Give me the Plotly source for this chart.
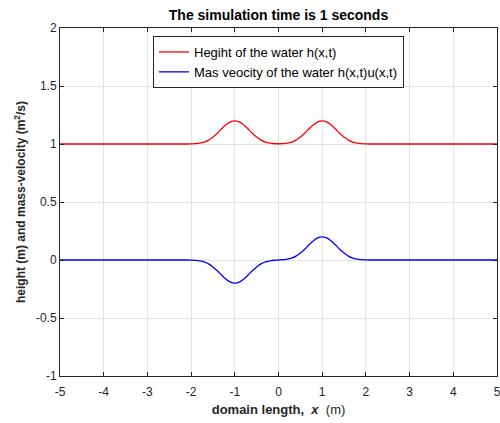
import plotly.graph_objects as go

# x positions (m)
x = [-5.0, -2.2, -2.1, -2.0, -1.9, -1.8, -1.7, -1.6, -1.5, -1.4, -1.3, -1.2, -1.1,
     -1.0, -0.9, -0.8, -0.7, -0.6, -0.5, -0.4, -0.3, -0.2, -0.1, 0.0,
     0.1, 0.2, 0.3, 0.4, 0.5, 0.6, 0.7, 0.8, 0.9, 1.0,
     1.1, 1.2, 1.3, 1.4, 1.5, 1.6, 1.7, 1.8, 1.9, 2.0, 2.1, 2.2, 5.0]

# water height h(x,t)
h = [1.0, 1.0, 1.0, 1.001, 1.003, 1.008, 1.017, 1.034, 1.060, 1.093, 1.131, 1.166, 1.191,
     1.200, 1.191, 1.166, 1.131, 1.093, 1.060, 1.034, 1.017, 1.008, 1.004, 1.002,
     1.004, 1.008, 1.017, 1.034, 1.060, 1.093, 1.131, 1.166, 1.191, 1.200,
     1.191, 1.166, 1.131, 1.093, 1.060, 1.034, 1.017, 1.008, 1.003, 1.001, 1.0, 1.0, 1.0]

# mass velocity h(x,t)u(x,t)
hu = [0.0, 0.0, 0.0, -0.001, -0.003, -0.008, -0.017, -0.034, -0.060, -0.093, -0.131, -0.166, -0.191,
      -0.200, -0.191, -0.166, -0.131, -0.093, -0.060, -0.034, -0.017, -0.008, -0.002, 0.0,
      0.002, 0.008, 0.017, 0.034, 0.060, 0.093, 0.131, 0.166, 0.191, 0.200,
      0.191, 0.166, 0.131, 0.093, 0.060, 0.034, 0.017, 0.008, 0.003, 0.001, 0.0, 0.0, 0.0]

x_ticks = [-5, -4, -3, -2, -1, 0, 1, 2, 3, 4, 5]
y_ticks = [-1, -0.5, 0, 0.5, 1, 1.5, 2]
y_tick_labels = ["-1", "-0.5", "0", "0.5", "1", "1.5", "2"]

FONT = "Liberation Sans, Arial, sans-serif"

fig = go.Figure()
fig.add_trace(go.Scatter(x=x, y=h, mode="lines", line=dict(color="#ff0000", width=1.3, shape="spline"),
                         name="Hegiht of the water h(x,t)"))
fig.add_trace(go.Scatter(x=x, y=hu, mode="lines", line=dict(color="#0000ff", width=1.3, shape="spline"),
                         name="Mas veocity of the water h(x,t)u(x,t)"))

axis_common = dict(showline=True, linecolor="#262626", linewidth=1, mirror="ticks",
                   ticks="inside", ticklen=4, tickcolor="#262626", automargin=False,
                   showgrid=True, gridcolor="#e3e3e3", gridwidth=1, zeroline=False,
                   tickfont=dict(family=FONT, size=12, color="#262626"))

fig.update_layout(
    width=500, height=423,
    margin=dict(l=60, r=3, t=28, b=47),
    paper_bgcolor="white", plot_bgcolor="white",
    font=dict(family=FONT, color="#262626"),
    title=dict(text="<b>The simulation time is 1 seconds</b>", x=0.5, xref="paper", xanchor="center",
               y=413/423, yanchor="top", font=dict(size=14, color="#000000")),
    xaxis=dict(range=[-5, 5], tickvals=x_ticks, ticktext=[str(t) for t in x_ticks],
               ticklabeloverflow="allow", ticklabelstandoff=5,
               title=dict(text="<b>domain length,  <i>x</i></b>  (m)", standoff=6,
                          font=dict(size=13, color="#262626")),
               **axis_common),
    yaxis=dict(range=[-1, 2], tickvals=y_ticks, ticktext=y_tick_labels,
               title=dict(text="<b>height (m) and mass-velocity (m<sup>2</sup>/s)</b>", standoff=7,
                          font=dict(size=12, color="#262626")),
               **axis_common),
    legend=dict(x=0.5, xanchor="center", y=0.977, yanchor="top",
                bgcolor="white", bordercolor="#262626", borderwidth=1,
                font=dict(family=FONT, size=13, color="#000000"),
                tracegroupgap=0, itemwidth=30),
    showlegend=True,
)

fig.write_html("out.html", config={"displayModeBar": False},
               post_script="document.body.style.margin='0';document.body.style.overflow='hidden';")
